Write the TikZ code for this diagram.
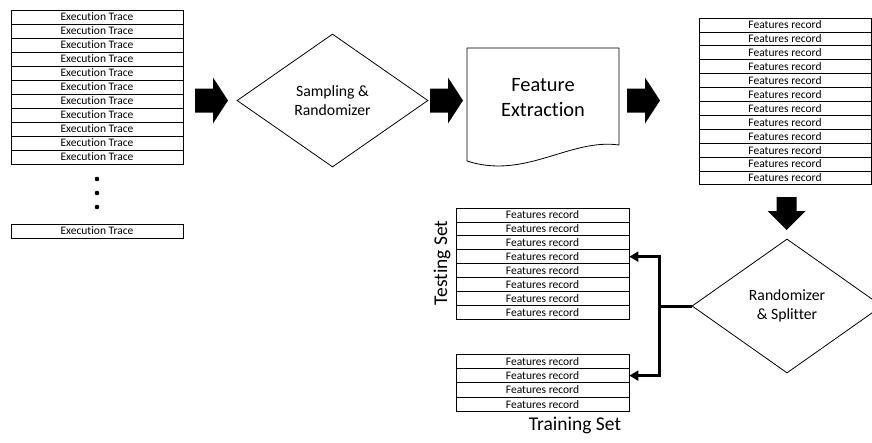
\documentclass[tikz,border=0pt]{standalone}
\usepackage{fontspec}
\setmainfont{Carlito}[RawFeature={-liga;-clig;-calt;-dlig}]
\usetikzlibrary{shapes.geometric,arrows.meta}
\begin{document}
\begin{tikzpicture}[x=1pt,y=-1pt,
  rec/.style={draw,line width=0.8pt,minimum width=172pt,inner sep=0pt,
    font=\fontsize{11.5}{12}\selectfont},
  tracerow/.style={rec,minimum height=14pt},
  featrow/.style={rec,minimum height=13.9pt},
  trainrow/.style={rec,minimum height=14.4pt},
  decision/.style={diamond,draw,line width=0.8pt,inner sep=0pt,align=center,
    font=\fontsize{15.7}{19.5}\selectfont},
  setlabel/.style={font=\fontsize{19.5}{22}\selectfont,inner sep=0pt},
  conn/.style={line width=3pt},
  fatarrow/.pic={\fill (0,-12)--(18,-12)--(18,-23)--(33,0)--(18,23)--(18,12)--(0,12)--cycle;},
  fatdown/.pic={\fill (-10,0)--(10,0)--(10,14)--(19,14)--(0,33)--(-19,14)--(-10,14)--cycle;}
]
\clip (0,0) rectangle (872,442);
\fill[white] (0,0) rectangle (872,442);

% execution traces
\foreach \i in {1,...,11}
  \node[tracerow] (et\i) at (97,{17+14*(\i-1)}) {Execution Trace};
\foreach \yy in {179,193,207}
  \fill (97,\yy) circle (2.3pt);
\node[tracerow] (etn) at (97,231) {Execution Trace};

\pic at (195,100.5) {fatarrow};

% sampling step
\node[decision,minimum width=191pt,minimum height=133pt] (sr) at (332.5,100.5)
  {Sampling \&\\Randomizer};

\pic at (430,100.5) {fatarrow};

% feature extraction (document shape)
\draw[line width=0.8pt] (467,48) -- (619,48) -- (619,145)
  .. controls (570,138) and (525,180) .. (467,161) -- cycle;
\node[align=center,font=\fontsize{20.4}{25}\selectfont,inner sep=0pt] (fe) at (543,97.5)
  {Feature\\Extraction};

\pic at (627,100.5) {fatarrow};

% extracted feature records
\foreach \i in {1,...,12}
  \node[featrow] (fr\i) at (785,{18+6.95+13.9*(\i-1)}) {Features record};

\pic at (786.5,197) {fatdown};

% randomizer and splitter
\node[decision,minimum width=190pt,minimum height=134pt] (rs) at (787,306)
  {Randomizer\\\& Splitter};

% testing set
\foreach \i in {1,...,8}
  \node[featrow,minimum width=173pt] (ts\i) at (542.5,{208+6.95+13.9*(\i-1)}) {Features record};
\node[setlabel,rotate=90] (tsl) at (442,263) {Testing Set};

% training set
\foreach \i in {1,...,4}
  \node[trainrow,minimum width=173pt] (tr\i) at (542.5,{354+7.2+14.4*(\i-1)}) {Features record};
\node[setlabel] (trl) at (575,425) {Training Set};

% split connectors
\draw[conn] (rs.west) -- ++(-32,0) coordinate (split);
\draw[conn,-{Triangle[length=9pt,width=10pt]}] (split) |- (ts4.east);
\draw[conn,-{Triangle[length=9pt,width=10pt]}] (split) |- (tr2.east);
\end{tikzpicture}
\end{document}
